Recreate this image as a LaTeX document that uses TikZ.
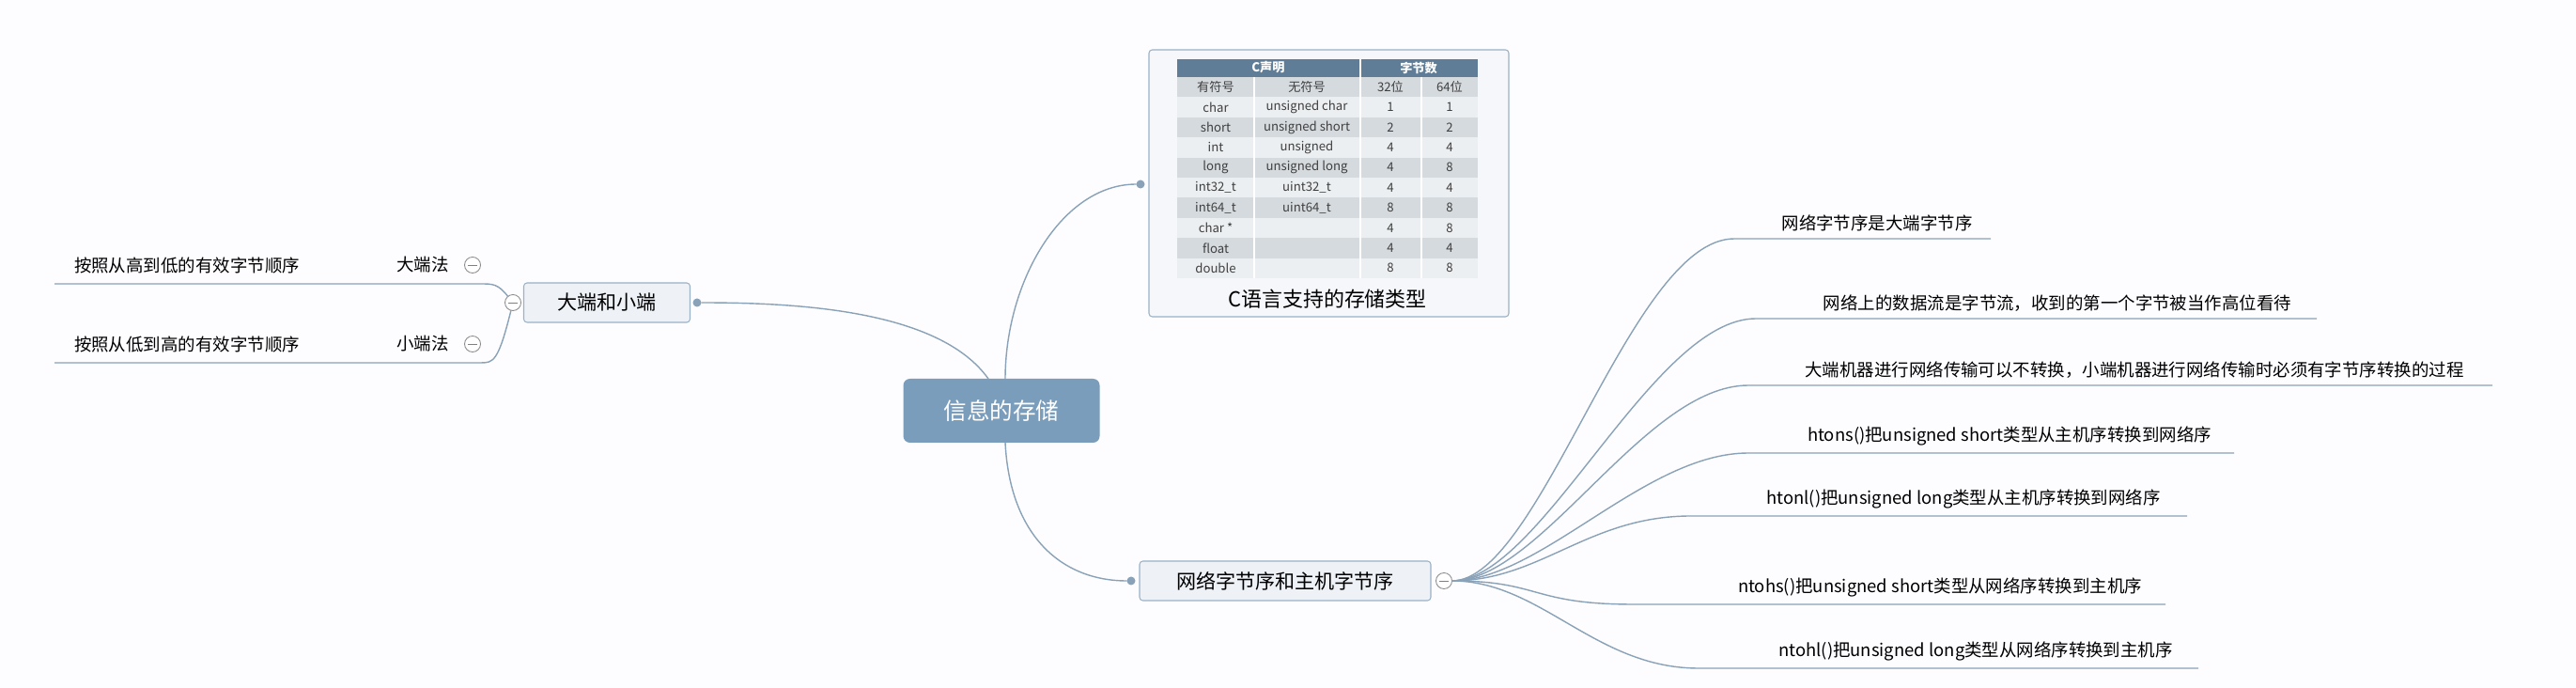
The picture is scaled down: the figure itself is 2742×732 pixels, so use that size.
\documentclass[tikz,border=0pt]{standalone}
\usepackage{fontspec}
\setmainfont{Noto Sans CJK SC}
\usetikzlibrary{positioning}
\definecolor{linecol}{HTML}{8AA2B8}
\definecolor{rootcol}{HTML}{7B9DBC}
\definecolor{subcol}{HTML}{EEF2F7}
\definecolor{subline}{HTML}{9AB1C6}
\definecolor{headcol}{HTML}{5F7D96}
\definecolor{rowdark}{HTML}{D5DADE}
\definecolor{rowlight}{HTML}{ECEFF1}

\begin{document}
\begin{tikzpicture}[x=0.02cm,y=-0.02cm,every node/.style={outer sep=0pt,inner sep=0pt},
 root/.style={draw=none,fill=rootcol,rounded corners=4pt,text=white,font=\fontsize{14}{16}\selectfont},
 subtopic/.style={draw=subline,fill=subcol,rounded corners=2pt,line width=0.6pt,font=\fontsize{12}{14}\selectfont},
 leaf/.style={font=\fontsize{10.5}{12}\selectfont,anchor=south},
 branch/.style={linecol,line width=0.8pt},
 tcell/.style={minimum height=21.3*0.02cm,font=\fontsize{7.5}{8}\selectfont,text=black!75},
 knob/.style={circle,draw=black!45,fill=white,minimum size=17*0.02cm,line width=0.5pt},
 tip/.style={circle,fill=linecol,minimum size=9*0.02cm}]

  \fill[white!97!blue!30!white] (0,0) rectangle (2742,732);

  % root
  \node[root,minimum width=209*0.02cm,minimum height=68*0.02cm] (root) at (1066,437) {信息的存储};

  % table topic
  \draw[subline,fill=subcol!60!white,rounded corners=2pt,line width=0.6pt] (1223,53) rectangle (1606,337);
  \node[tip] (tdot) at (1214,196) {};
  \fill[headcol] (1253,63) rectangle (1573,82);
  \node[tcell,text=white,font=\bfseries\fontsize{7.5}{8}\selectfont] (h1) at (1350,72) {C声明};
  \node[tcell,text=white,font=\bfseries\fontsize{7.5}{8}\selectfont] (h2) at (1510,72) {字节数};
  \foreach \T [count=\r] in {有符号/无符号/32位/64位,char/unsigned char/1/1,short/unsigned short/2/2,
    int/unsigned/4/4,long/unsigned long/4/8,int32\_t/uint32\_t/4/4,int64\_t/uint64\_t/8/8,
    char */ /4/8,float/ /4/4,double/ /8/8}
  {\pgfmathsetmacro\ytop{82+(\r-1)*21.4}
   \pgfmathtruncatemacro\odd{mod(\r,2)}
   \ifnum\odd=1 \fill[rowdark] (1253,\ytop) rectangle (1573,\ytop+21.4);
   \else \fill[rowlight] (1253,\ytop) rectangle (1573,\ytop+21.4); \fi
   \foreach \x in {1335,1448,1513} \draw[white,line width=0.6pt] (\x,\ytop) -- (\x,\ytop+21.4);
   \foreach \a/\b/\c/\d in \T
   {\node[tcell] (c\r a) at (1294,\ytop+10.7) {\a};
    \node[tcell] (c\r b) at (1391,\ytop+10.7) {\b};
    \node[tcell] (c\r c) at (1480,\ytop+10.7) {\c};
    \node[tcell] (c\r d) at (1543,\ytop+10.7) {\d};}
  }
  \draw[white,line width=0.6pt] (1448,63) -- (1448,82);
  \node[font=\fontsize{12.5}{14}\selectfont] (ttitle) at (1413,318) {C语言支持的存储类型};

  % left topic
  \node[subtopic,minimum width=177*0.02cm,minimum height=42*0.02cm] (endian) at (646,322) {大端和小端};
  \node[tip] (edot) at (742,322) {};
  \node[knob] (eknob) at (546,322) {};
  \draw[black!50,line width=0.5pt] ([xshift=-5*0.02cm]eknob.center) -- ([xshift=5*0.02cm]eknob.center);

  \foreach \y/\lab/\txt/\n in {302/大端法/按照从高到低的有效字节顺序/big,386/小端法/按照从低到高的有效字节顺序/small}
  {\node[font=\fontsize{10.5}{12}\selectfont] (\n lab) at (450,\y-20) {\lab};
   \node[knob] (\n knob) at (503,\y-20) {};
   \draw[black!50,line width=0.5pt] ([xshift=-5*0.02cm]\n knob.center) -- ([xshift=5*0.02cm]\n knob.center);
   \node[font=\fontsize{10.5}{12}\selectfont] (\n txt) at (199,\y-20) {\txt};
   \coordinate (\n end) at (58,\y);
   \draw[branch] (eknob) .. controls (530,\y) and (525,\y) .. (511,\y) -- (\n end);
  }

  % right topic
  \node[subtopic,minimum width=310*0.02cm,minimum height=42*0.02cm] (net) at (1368,618) {网络字节序和主机字节序};
  \node[tip] (ndot) at (1204,618) {};
  \node[knob] (nknob) at (1537,618) {};
  \draw[black!50,line width=0.5pt] ([xshift=-5*0.02cm]nknob.center) -- ([xshift=5*0.02cm]nknob.center);

  \foreach \cx/\ly/\sx/\ex/\txt [count=\i] in
   {1998/254/1846/2119/网络字节序是大端字节序,
    2190/339/1869/2466/网络上的数据流是字节流，收到的第一个字节被当作高位看待,
    2272/410/1861/2653/大端机器进行网络传输可以不转换，小端机器进行网络传输时必须有字节序转换的过程,
    2139/482/1861/2378/htons()把unsigned short类型从主机序转换到网络序,
    2090/549/1800/2328/htonl()把unsigned long类型从主机序转换到网络序,
    2065/643/1739/2305/ntohs()把unsigned short类型从网络序转换到主机序,
    2103/711/1808/2340/ntohl()把unsigned long类型从网络序转换到主机序}
  {\node[leaf] (leaf\i) at (\cx,\ly-8) {\txt};
   \coordinate (lend\i) at (\ex,\ly);
   \draw[branch] (nknob.east) .. controls (1640,618) and (\sx-110,\ly) .. (\sx,\ly) -- (lend\i);
  }

  % root connectors
  \draw[branch] (1070,403) .. controls (1070,300) and (1130,196) .. (tdot);
  \draw[branch] (1052,403) .. controls (1000,330) and (850,322) .. (edot);
  \draw[branch] (1070,471) .. controls (1075,570) and (1130,618) .. (ndot);
\end{tikzpicture}
\end{document}
